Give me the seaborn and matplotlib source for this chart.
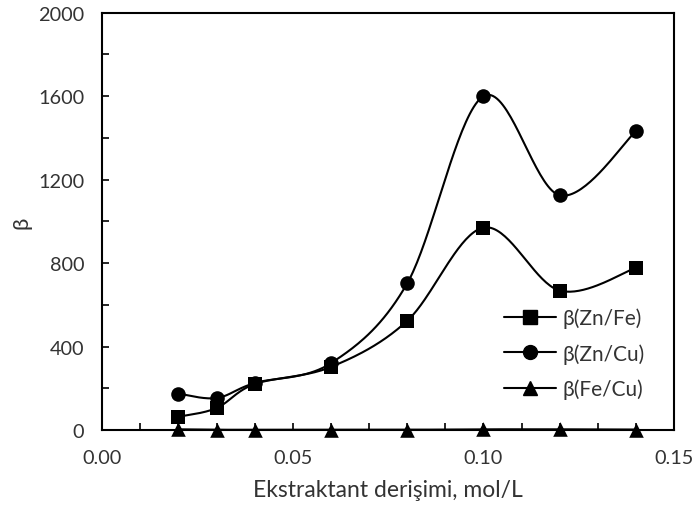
import numpy as np
import pandas as pd
import seaborn as sns
import matplotlib.pyplot as plt
from matplotlib.lines import Line2D
from matplotlib.ticker import MultipleLocator

# ekstraktant derisimi (mol/L) ve ayirma faktorleri
derisim = [0.02, 0.03, 0.04, 0.06, 0.08, 0.10, 0.12, 0.14]
zn_fe = [63, 105, 220, 302, 523, 970, 668, 777]
zn_cu = [174, 153, 225, 320, 703, 1600, 1125, 1432]
fe_cu = [3, 1, 1, 1, 1, 3, 3, 2]

seriler = ['β(Zn/Fe)', 'β(Zn/Cu)', 'β(Fe/Cu)']
isaretler = ['s', 'o', '^']


def excel_smooth(x, y, n=40):
    # Excel tarzi yumusatilmis cizgi (Catmull-Rom / Bezier)
    x = np.asarray(x, float)
    y = np.asarray(y, float)
    p = np.column_stack([x, y])
    p = np.vstack([p[0], p, p[-1]])
    out = []
    t = np.linspace(0, 1, n)[:, None]
    for i in range(1, len(p) - 2):
        p0, p3 = p[i], p[i + 1]
        c1 = p0 + (p[i + 1] - p[i - 1]) / 6
        c2 = p3 - (p[i + 2] - p[i]) / 6
        seg = ((1 - t) ** 3) * p0 + 3 * ((1 - t) ** 2) * t * c1 + 3 * (1 - t) * t ** 2 * c2 + t ** 3 * p3
        out.append(seg if i == 1 else seg[1:])
    out = np.vstack(out)
    return out[:, 0], out[:, 1]


sns.set_style('white')
plt.rcParams['font.family'] = ['Lato', 'DejaVu Sans']

fig = plt.figure(figsize=(6.95, 5.10), dpi=100)
ax = fig.add_axes([0.147, 0.155, 0.823, 0.818])

tablo = pd.DataFrame({'derisim': derisim, seriler[0]: zn_fe, seriler[1]: zn_cu, seriler[2]: fe_cu})

handles = []
for s, m in zip(seriler, isaretler):
    xs, ys = excel_smooth(tablo['derisim'], tablo[s])
    sns.lineplot(x=xs, y=ys, ax=ax, color='black', linewidth=1.5, sort=False, estimator=None)
    sns.scatterplot(data=tablo, x='derisim', y=s, ax=ax, marker=m, s=110, color='black',
                    edgecolor='black', linewidth=0, zorder=3, clip_on=False)
    handles.append(Line2D([], [], color='black', linewidth=1.5, marker=m, markersize=10))

ax.set_xlim(0, 0.15)
ax.set_ylim(0, 2000)
ax.xaxis.set_major_locator(MultipleLocator(0.05))
ax.xaxis.set_minor_locator(MultipleLocator(0.01))
ax.yaxis.set_major_locator(MultipleLocator(400))
ax.yaxis.set_minor_locator(MultipleLocator(200))
ax.xaxis.set_major_formatter(lambda v, pos: f'{v:.2f}')
ax.tick_params(which='both', direction='in', length=5, width=1.2, color='black',
               bottom=True, left=True, labelsize=14.3, labelcolor='#333333')
ax.tick_params(axis='x', pad=14)
ax.tick_params(axis='y', pad=13)
for sp in ax.spines.values():
    sp.set_color('black')
    sp.set_linewidth(1.5)

ax.set_xlabel('Ekstraktant derişimi, mol/L', fontsize=16.5, color='#333333', labelpad=9)
ax.set_ylabel('β', fontsize=16, color='#333333', labelpad=5)

ax.legend(handles, seriler, loc='upper left', bbox_to_anchor=(0.698, 0.432), bbox_transform=fig.transFigure,
          frameon=False, fontsize=15, handlelength=2.5, handletextpad=0.3, labelspacing=0.72,
          labelcolor='#333333')

plt.savefig('out.png', dpi=100)
